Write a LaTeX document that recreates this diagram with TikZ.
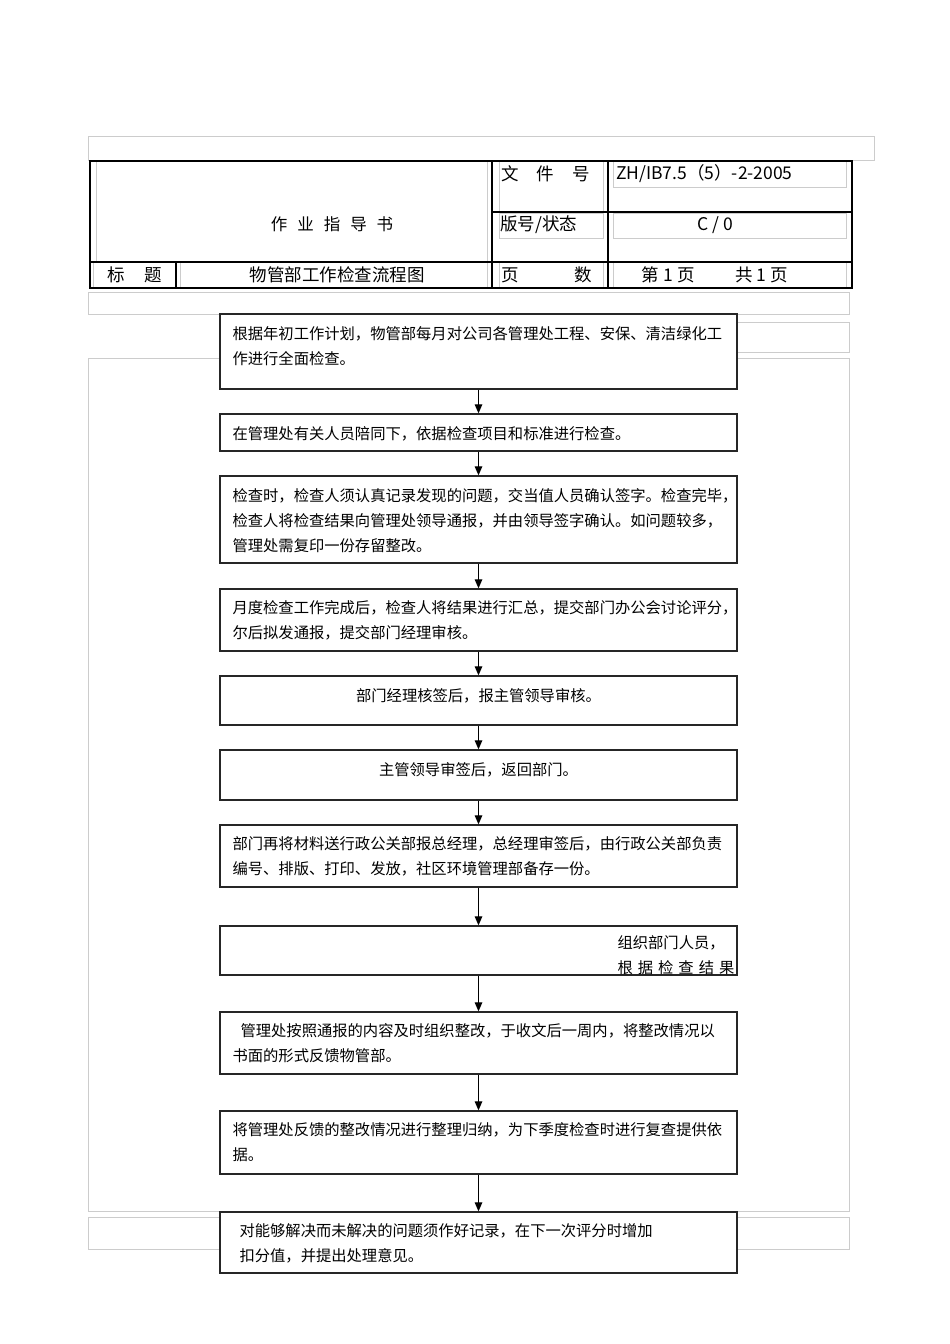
\documentclass[tikz,border=0pt]{standalone}
\usepackage{fontspec}
\setmainfont{Noto Sans CJK SC}
\usetikzlibrary{arrows.meta}

\tikzset{
  stepbox/.style={draw=black!85, line width=1.3pt, fill=white, minimum width=517pt, inner sep=0pt},
  boxtext/.style={inner sep=0pt, align=left, font=\fontsize{15.3}{25}\selectfont},
  headtext/.style={inner sep=0pt, font=\fontsize{17.5}{20}\selectfont},
  flow/.style={line width=1.2pt, -{Triangle[length=9pt,width=7.5pt]}},
  faint/.style={draw=black!20, line width=0.9pt},
  rule/.style={line width=1.8pt}
}

\begin{document}
\begin{tikzpicture}[x=1pt,y=-1pt]
    \useasboundingbox (0,0) rectangle (950,1344);

    % grey frames behind
    \draw[faint] (88,136) rectangle (874,160);
    \draw[faint] (88,292) rectangle (849,314);
    \draw[faint] (600,322) rectangle (849,352);
    \draw[faint] (88,358) rectangle (849,1211);
    \draw[faint] (88,1217) rectangle (849,1249);

    % header cells
    \draw[faint] (96,161) -- (96,262);
    \draw[faint] (487,161) -- (487,288);
    \draw[faint] (93,262) -- (93,288);
    \draw[faint] (180,262) -- (180,288);
    \draw[faint] (499,161) -- (499,212);
    \draw[faint] (603,161) -- (603,212);
    \draw[faint] (499,213) rectangle (603,238);
    \draw[faint] (613,161) -- (613,187) -- (846,187) -- (846,161);
    \draw[faint] (613,213) rectangle (846,238);
    \draw[faint] (499,262) -- (499,288);
    \draw[faint] (603,262) -- (603,288);
    \draw[faint] (613,262) -- (613,288);
    \draw[faint] (846,262) -- (846,288);

    \draw[rule] (90,161) rectangle (852,288);
    \draw[rule] (492,161) -- (492,288);
    \draw[rule] (608,161) -- (608,288);
    \draw[rule] (492,212) -- (852,212);
    \draw[rule] (90,262) -- (852,262);
    \draw[rule] (176,262) -- (176,288);

    \node[headtext, font=\fontsize{16.5}{20}\selectfont] (doctitle) at (332,224) {作\hspace{10pt}业\hspace{10pt}指\hspace{10pt}导\hspace{10pt}书};
    \node[headtext, anchor=west] (filelabel) at (501,174) {文\hspace{18pt}件\hspace{18pt}号};
    \node[headtext, anchor=west] (fileno) at (616,174) {ZH/IB7.5（5）-2-2005};
    \node[headtext, anchor=west] (verlabel) at (500,225) {版号/状态};
    \node[headtext] (ver) at (715,225) {C / 0};
    \node[headtext, anchor=west] (titlelabel) at (107,275) {标\hspace{20pt}题};
    \node[headtext] (titletext) at (337,275) {物管部工作检查流程图};
    \node[headtext, anchor=west] (pagelabel) at (501,275) {页\hspace{56pt}数};
    \node[headtext] (pages) at (715,275) {第 1 页\hspace{41pt}共 1 页};

    % flow boxes
    \node[stepbox, minimum height=75pt] (b1) at (478.5,351.5) {};
    \node[stepbox, minimum height=37pt] (b2) at (478.5,432.5) {};
    \node[stepbox, minimum height=87pt] (b3) at (478.5,519.5) {};
    \node[stepbox, minimum height=62pt] (b4) at (478.5,620) {};
    \node[stepbox, minimum height=49pt] (b5) at (478.5,700.5) {};
    \node[stepbox, minimum height=50pt] (b6) at (478.5,775) {};
    \node[stepbox, minimum height=62pt] (b7) at (478.5,856) {};
    \node[stepbox, minimum height=49pt] (b8) at (478.5,950.5) {};
    \node[stepbox, minimum height=62pt] (b9) at (478.5,1043) {};
    \node[stepbox, minimum height=63pt] (b10) at (478.5,1142.5) {};
    \node[stepbox, minimum height=61pt] (b11) at (478.5,1242.5) {};

    % texts sit on the baseline of their last line
    \node[boxtext, anchor=base west] (t1) at ([xshift=13pt,yshift=-51pt]b1.north west) {根据年初工作计划，物管部每月对公司各管理处工程、安保、清洁绿化工\\作进行全面检查。};
    \node[boxtext, anchor=base west] (t2) at ([xshift=13pt,yshift=-26pt]b2.north west) {在管理处有关人员陪同下，依据检查项目和标准进行检查。};
    \node[boxtext, anchor=base west] (t3) at ([xshift=13pt,yshift=-76pt]b3.north west) {检查时，检查人须认真记录发现的问题，交当值人员确认签字。检查完毕，\\检查人将检查结果向管理处领导通报，并由领导签字确认。如问题较多，\\管理处需复印一份存留整改。};
    \node[boxtext, anchor=base west] (t4) at ([xshift=13pt,yshift=-50pt]b4.north west) {月度检查工作完成后，检查人将结果进行汇总，提交部门办公会讨论评分，\\尔后拟发通报，提交部门经理审核。};
    \node[boxtext, anchor=base] (t5) at ([yshift=-26pt]b5.north) {部门经理核签后，报主管领导审核。};
    \node[boxtext, anchor=base] (t6) at ([yshift=-26pt]b6.north) {主管领导审签后，返回部门。};
    \node[boxtext, anchor=base west] (t7) at ([xshift=13pt,yshift=-50pt]b7.north west) {部门再将材料送行政公关部报总经理，总经理审签后，由行政公关部负责\\编号、排版、打印、发放，社区环境管理部备存一份。};
    \begin{scope}
        \clip (b8.north west) rectangle (b8.south east);
        \node[boxtext, anchor=base west] (t8) at ([xshift=398pt,yshift=-48pt]b8.north west) {组织部门人员，\\根\hspace{5pt}据\hspace{5pt}检\hspace{5pt}查\hspace{5pt}结\hspace{5pt}果};
    \end{scope}
    \node[boxtext, anchor=base west] (t9) at ([xshift=13pt,yshift=-50pt]b9.north west) {\hspace*{8pt}管理处按照通报的内容及时组织整改，于收文后一周内，将整改情况以\\书面的形式反馈物管部。};
    \node[boxtext, anchor=base west] (t10) at ([xshift=13pt,yshift=-50pt]b10.north west) {将管理处反馈的整改情况进行整理归纳，为下季度检查时进行复查提供依\\据。};
    \node[boxtext, anchor=base west] (t11) at ([xshift=20pt,yshift=-50pt]b11.north west) {对能够解决而未解决的问题须作好记录，在下一次评分时增加\\扣分值，并提出处理意见。};

    % connectors
    \foreach \a/\b in {b1/b2, b2/b3, b3/b4, b4/b5, b5/b6, b6/b7, b7/b8, b8/b9, b9/b10, b10/b11}
        \draw[flow] (\a) -- (\b);
\end{tikzpicture}
\end{document}
